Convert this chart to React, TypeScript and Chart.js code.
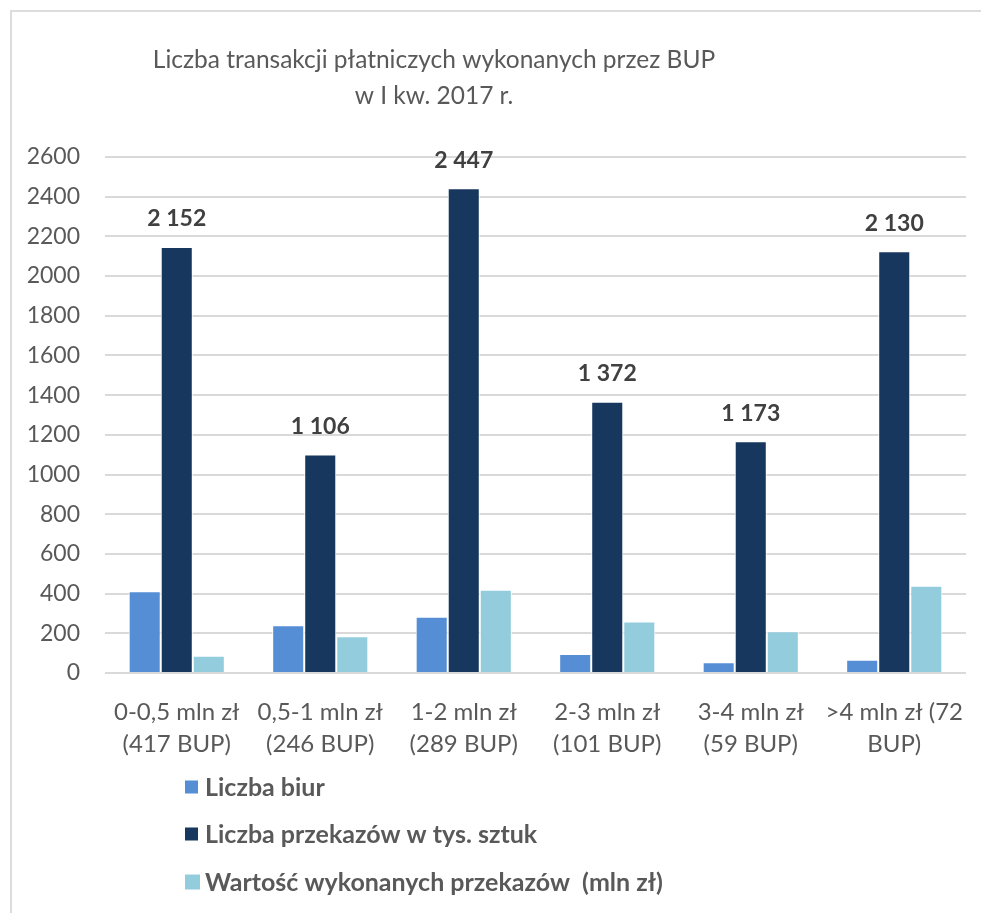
import React, { useEffect, useRef } from "react";
import { Chart, registerables } from "chart.js";

Chart.register(...registerables);

const categories: string[][] = [
  ["0-0,5 mln zł", "(417 BUP)"],
  ["0,5-1 mln zł", "(246 BUP)"],
  ["1-2 mln zł", "(289 BUP)"],
  ["2-3 mln zł", "(101 BUP)"],
  ["3-4 mln zł", "(59 BUP)"],
  [">4 mln zł (72", "BUP)"],
];
const liczbaBiur = [417, 246, 289, 101, 59, 72];
const liczbaPrzekazow = [2152, 1106, 2447, 1372, 1173, 2130];
const wartoscPrzekazow = [92, 190, 425, 265, 215, 445];
const seriesNames = [
  "Liczba biur",
  "Liczba przekazów w tys. sztuk",
  "Wartość wykonanych przekazów  (mln zł)",
];
const titleLines = ["Liczba transakcji płatniczych wykonanych przez BUP", "w I kw. 2017 r."];

const FONT = "Lato, 'Noto Sans', sans-serif";
const GRAY = "#595959";

const fmt = (v: number) => String(v).replace(/\B(?=(\d{3})+(?!\d))/g, " ");

const overlayPlugin = {
  id: "overlay",
  afterDatasetsDraw(chart: any) {
    const ctx = chart.ctx;
    const meta = chart.getDatasetMeta(1);
    ctx.save();
    ctx.font = `bold 23px ${FONT}`;
    ctx.fillStyle = "#404040";
    ctx.textAlign = "center";
    ctx.textBaseline = "middle";
    meta.data.forEach((el: any, i: number) => {
      ctx.fillText(fmt(liczbaPrzekazow[i]), el.x, el.y - 27);
    });
    ctx.restore();
  },
  afterDraw(chart: any) {
    const ctx = chart.ctx;
    ctx.save();
    ctx.font = `24.5px ${FONT}`;
    ctx.fillStyle = GRAY;
    ctx.textAlign = "center";
    ctx.textBaseline = "middle";
    ctx.fillText(titleLines[0], 434, 60);
    ctx.fillText(titleLines[1], 434, 96);
    ctx.font = `bold 25px ${FONT}`;
    ctx.textAlign = "left";
    const rows = [787, 834, 882];
    chart.data.datasets.forEach((ds: any, i: number) => {
      const y = rows[i];
      ctx.fillStyle = ds.backgroundColor;
      const s = i === 2 ? 15 : 13;
      ctx.fillRect(185, y - s / 2, s, s);
      ctx.fillStyle = GRAY;
      ctx.fillText(ds.label, 205, y + 1);
    });
    ctx.restore();
  },
};

export default function App() {
  const ref = useRef<HTMLCanvasElement | null>(null);
  useEffect(() => {
    if (!ref.current) return;
    const border = { top: 2, left: 1, right: 1, bottom: 0 };
    const chart = new Chart(ref.current, {
      type: "bar",
      data: {
        labels: categories,
        datasets: [
          {
            label: seriesNames[0],
            data: liczbaBiur,
            backgroundColor: "#558ED5",
            borderColor: "#ffffff",
            borderWidth: border,
            borderSkipped: false as any,
          },
          {
            label: seriesNames[1],
            data: liczbaPrzekazow,
            backgroundColor: "#17375E",
            borderColor: "#ffffff",
            borderWidth: border,
            borderSkipped: false as any,
          },
          {
            label: seriesNames[2],
            data: wartoscPrzekazow,
            backgroundColor: "#93CDDD",
            borderColor: "#ffffff",
            borderWidth: border,
            borderSkipped: false as any,
          },
        ],
      },
      options: {
        responsive: false,
        animation: false,
        maintainAspectRatio: false,
        datasets: { bar: { categoryPercentage: 0.67, barPercentage: 1 } } as any,
        layout: { padding: { left: 12, right: 15, top: 157, bottom: 150 } },
        plugins: {
          legend: { display: false },
          title: { display: false },
          tooltip: { enabled: false },
        },
        scales: {
          x: {
            grid: { display: false, drawTicks: false },
            border: { display: false },
            ticks: {
              color: GRAY,
              font: { family: FONT, size: 24, lineHeight: 1.3 },
              padding: 24,
              maxRotation: 0,
              autoSkip: false,
            },
            afterFit: (s: any) => {
              s.height = 90;
              s.paddingLeft = 0;
              s.paddingRight = 0;
            },
          },
          y: {
            min: 0,
            max: 2600,
            grid: { color: "#d9d9d9", lineWidth: 2, drawTicks: false },
            border: { display: false },
            ticks: {
              stepSize: 200,
              color: GRAY,
              font: { family: FONT, size: 23 },
              padding: 25,
              callback: (v: any) => String(v),
            },
            afterFit: (s: any) => {
              s.width = 93;
              s.paddingTop = 0;
              s.paddingBottom = 0;
            },
          },
        },
      },
      plugins: [overlayPlugin],
    });
    return () => chart.destroy();
  }, []);
  return (
    <div style={{ position: "fixed", left: 0, top: 0, width: 981, height: 913, background: "#fff", overflow: "hidden" }}>
      <div
        style={{
          position: "absolute",
          left: 10,
          top: 10,
          width: 971,
          height: 903,
          borderTop: "2px solid #dcdcdc",
          borderLeft: "2px solid #dcdcdc",
        }}
      />
      <canvas ref={ref} width={981} height={913} style={{ position: "absolute", left: 0, top: 0 }} />
    </div>
  );
}
